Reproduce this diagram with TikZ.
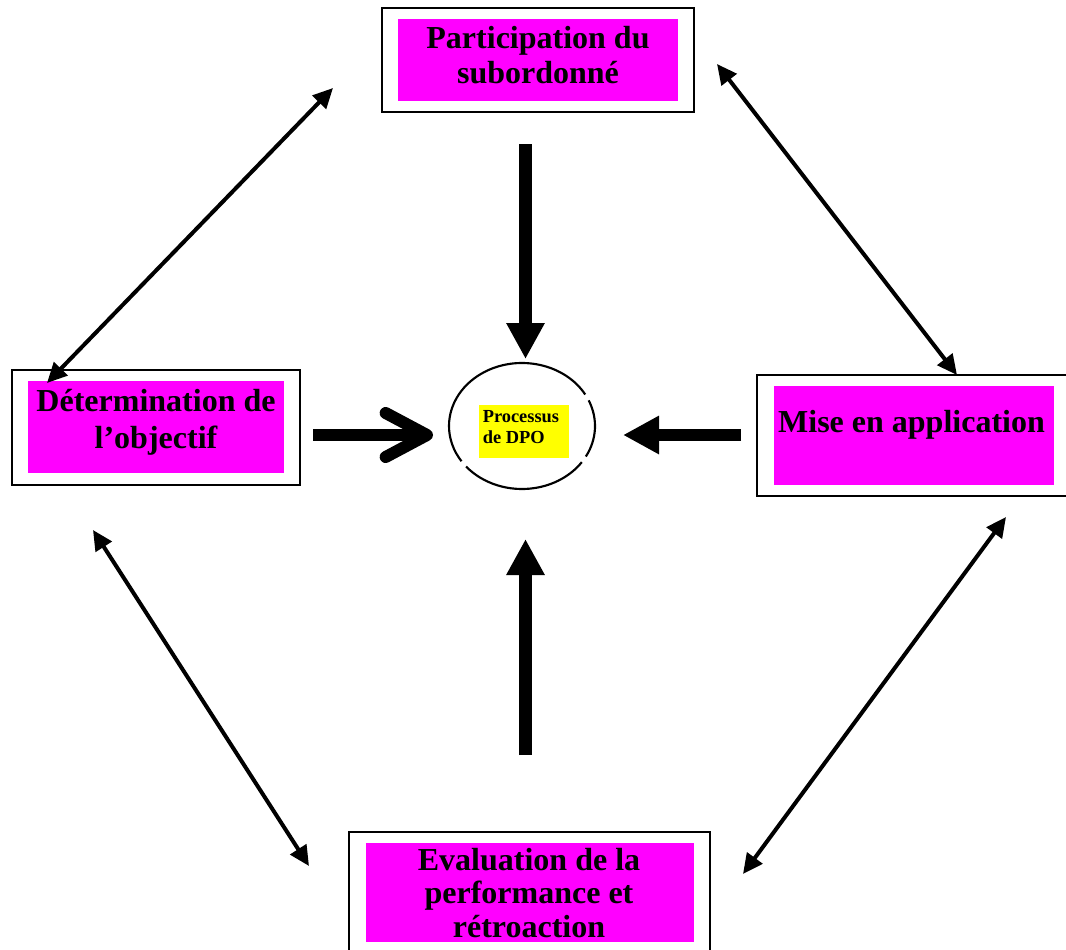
\documentclass[tikz,border=0pt]{standalone}
\usepackage{fontspec}
\setmainfont{Liberation Serif}
\usetikzlibrary{arrows.meta}
\definecolor{mag}{RGB}{255,0,255}
\definecolor{yel}{RGB}{255,255,0}
\begin{document}
\begin{tikzpicture}[x=0.75pt,y=-0.75pt,
  frame/.style={draw=black,line width=1.5pt,inner sep=0pt,fill=white},
  panel/.style={fill=mag,inner sep=0pt},
  boxlabel/.style={font=\bfseries\fontsize{24}{26.25}\selectfont,align=center,inner sep=0pt},
  smalllabel/.style={font=\bfseries\fontsize{13.8}{15.75}\selectfont,align=left,inner sep=0pt},
  ellline/.style={line width=1.6pt},
  bigarrow/.style={line width=9.5pt,-{Triangle[length=27pt,width=27pt]}},
  openarrow/.style={line width=9pt,-{Straight Barb[length=31pt,width=33pt,round]}},
  twoway/.style={line width=3pt,{Triangle[length=15pt,width=14pt]}-{Triangle[length=15pt,width=14pt]}}
]
\useasboundingbox (0,0) rectangle (1066,949);
\clip (0,0) rectangle (1066,949);

% top box
\node[frame,minimum width=312*0.75pt,minimum height=104*0.75pt] (T) at (538,60) {};
\node[panel,minimum width=280*0.75pt,minimum height=82*0.75pt] (Tp) at (538,60) {};
\node[boxlabel] (Tt) at (538,54.7) {Participation du\\subordonné};

% left box
\node[frame,minimum width=288*0.75pt,minimum height=115*0.75pt] (L) at (156,427.5) {};
\node[panel,minimum width=256*0.75pt,minimum height=92*0.75pt] (Lp) at (156,427) {};
\node[boxlabel,font=\bfseries\fontsize{24}{28}\selectfont] (Lt) at (156,422.4) {Détermination de\\l’objectif};

% right box
\node[frame,minimum width=330*0.75pt,minimum height=121*0.75pt] (R) at (922,435.5) {};
\node[panel,minimum width=280*0.75pt,minimum height=99*0.75pt] (Rp) at (914,435.5) {};
\node[boxlabel] (Rt) at (911.5,424.7) {Mise en application};

% bottom box
\node[frame,minimum width=361*0.75pt,minimum height=140*0.75pt] (B) at (529.5,902) {};
\node[panel,minimum width=328*0.75pt,minimum height=99*0.75pt] (Bp) at (530,892.5) {};
\node[boxlabel,font=\bfseries\fontsize{24}{25.1}\selectfont] (Bt) at (529,892.7) {Evaluation de la\\performance et\\rétroaction};

% centre
\coordinate (E) at (522,426);
\draw[ellline] ([shift={(30:54.75pt and 47.25pt)}]E) arc[start angle=30,end angle=214,x radius=54.75pt,y radius=47.25pt];
\draw[ellline] ([shift={(220:54.75pt and 47.25pt)}]E) arc[start angle=220,end angle=325,x radius=54.75pt,y radius=47.25pt];
\draw[ellline] ([shift={(331:54.75pt and 47.25pt)}]E) arc[start angle=331,end angle=384,x radius=54.75pt,y radius=47.25pt];
\node[fill=yel,inner sep=0pt,minimum width=90*0.75pt,minimum height=53*0.75pt] (Y) at (524,431.5) {};
\node[smalllabel,anchor=north west] (Yt) at (482.5,409.8) {Processus\\de DPO};

% thick arrows
\coordinate (ta1) at (525.5,144);  \coordinate (ta2) at (525.5,359);
\coordinate (ba1) at (525.5,755);  \coordinate (ba2) at (525.5,539);
\coordinate (ra1) at (741,435);    \coordinate (ra2) at (623,435);
\coordinate (la1) at (313,435);    \coordinate (la2) at (433,435);
\draw[bigarrow] (ta1) -- (ta2);
\draw[bigarrow] (ba1) -- (ba2);
\draw[bigarrow,line width=9pt] (ra1) -- (ra2);
\draw[openarrow] (la1) -- (la2);

% double arrows
\coordinate (d1a) at (333,88);   \coordinate (d1b) at (47,383);
\coordinate (d2a) at (717,64);   \coordinate (d2b) at (957,375);
\coordinate (d3a) at (93,530);   \coordinate (d3b) at (309,866);
\coordinate (d4a) at (1006,517); \coordinate (d4b) at (743,874);
\draw[twoway] (d1a) -- (d1b);
\draw[twoway] (d2a) -- (d2b);
\draw[twoway] (d3a) -- (d3b);
\draw[twoway] (d4a) -- (d4b);
\end{tikzpicture}
\end{document}
